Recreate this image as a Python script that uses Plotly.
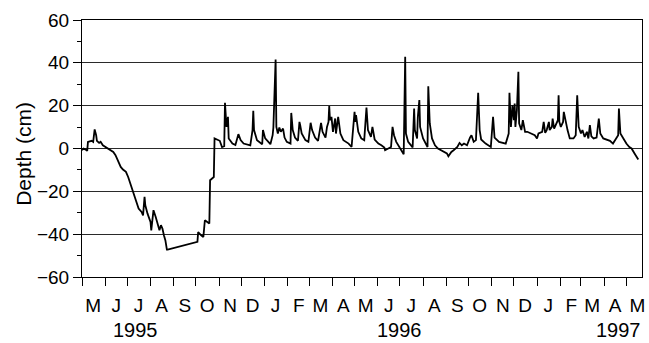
import pandas as pd
import plotly.graph_objects as go

# Days since 1 May 1995 and water depth (cm)
days = [0, 2, 5, 7, 8, 13, 15, 17, 19, 20, 23, 25, 28, 33, 37, 42, 45, 48, 52, 55,
        59, 62, 65, 68, 71, 74, 76, 80, 82, 84, 85, 88, 92, 93, 96, 99, 102, 104, 106, 108,
        110, 112, 114, 115, 155, 156, 160, 163, 165, 168, 171, 172, 175, 177, 178, 182, 185, 188, 191, 192,
        194, 196, 197, 202, 206, 210, 213, 217, 226, 229, 230, 231, 235, 242, 243, 246, 253, 256, 257, 260,
        261, 263, 265, 267, 270, 272, 275, 280, 281, 283, 286, 290, 292, 293, 295, 300, 304, 307, 309, 313,
        317, 321, 323, 327, 329, 331, 332, 333, 335, 337, 340, 341, 344, 347, 351, 358, 362, 366, 367, 368,
        371, 375, 379, 382, 384, 388, 390, 393, 398, 402, 406, 407, 411, 415, 417, 419, 422, 426, 430, 432,
        434, 435, 438, 442, 444, 446, 447, 450, 451, 453, 454, 458, 462, 464, 465, 467, 470, 474, 478, 482,
        487, 490, 492, 496, 499, 504, 507, 510, 513, 517, 521, 523, 526, 529, 532, 534, 536, 542, 549, 552,
        554, 560, 569, 571, 573, 574, 576, 578, 580, 581, 582, 584, 586, 587, 590, 592, 595, 598, 602, 608,
        611, 613, 618, 620, 622, 624, 627, 628, 631, 632, 634, 636, 639, 640, 641, 643, 646, 647, 650, 652,
        655, 660, 663, 665, 667, 670, 672, 675, 678, 680, 682, 684, 687, 691, 694, 696, 700, 704, 709, 713,
        717, 720, 721, 723, 727, 731, 735, 738, 742, 747]
depth_cm = [-0.8, 0, -0.5, -1.1, 3.1, 3.6, 3.1, 8.9, 6.2, 3.6, 2.6, 3.1, 1.5, 0.5, -0.5, -1.6, -3.1, -5.5, -8.6, -9.8,
            -10.9, -13.3, -16.4, -19.5, -22.3, -25.7, -28.0, -29.6, -31.2, -22.6, -26.5, -30.4, -34.3, -38.2, -28.8, -32, -35.1, -38.2, -35.8, -37.4,
            -40.5, -42.9, -47.2, -47.2, -43.6, -39, -40.5, -41.3, -33.5, -34.3, -35, -14.8, -14, -13.3, 4.7, 3.9, 3.6, 0.7, 1.1, 21.3,
            10.1, 14.8, 4.7, 2.3, 1.6, 6.7, 3.9, 2.3, 1.5, 8.6, 17.6, 8.6, 3.9, 2, 8.6, 4.7, 2, 6.2, 9.8, 41.6,
            10.1, 7, 9.8, 7.8, 9.3, 5.1, 3.1, 2.3, 16.6, 8.6, 5.1, 3.6, 12.4, 10.9, 7, 3.9, 3.1, 12, 8.6, 5.1,
            3.6, 12, 7.8, 5.1, 10.1, 12.4, 19.8, 13.2, 14.8, 7.8, 14, 7, 14.8, 7, 3.9, 2.3, 0.7, 17.1, 12.4, 15.6,
            7.8, 4.7, 3.9, 19.1, 8.6, 5.4, 10.1, 4.2, 2.3, 1.5, 0.5, -0.8, 0, 0.7, 10.1, 6.2, 3.1, 0.7, -1.6, -2.7,
            42.8, 7, 3.1, 1.1, 0.5, 18.7, 8.6, 4.7, 14.8, 22.6, 10.1, 4.7, 1.5, 0.7, 29.1, 11.7, 4.7, 1.5, 0, -0.8,
            -1.6, -2.3, -3.6, -1.6, -0.8, 0.7, 2.6, 1.5, 2.3, 1.5, 5.1, 6.2, 3.1, 3.9, 26, 8.6, 4.2, 2.3, 0.7, 14.8,
            5.1, 3.1, 2.3, 4.7, 7, 26, 10.1, 20.2, 13.2, 21, 10.1, 17.9, 35.8, 11.7, 8.6, 13.2, 7.8, 7.8, 7, 6.2,
            4.7, 7, 7.8, 12.4, 7.3, 8.6, 12.4, 8.6, 10.1, 14, 9.3, 10.9, 13.2, 24.9, 12.4, 10.1, 12.4, 17.1, 10.9, 8.6,
            4.7, 4.7, 6.2, 24.9, 10.1, 7, 8.6, 5.4, 7.8, 4.7, 10.9, 5.7, 4.7, 5.1, 14, 7, 4.7, 4.2, 3.6, 2.3,
            4.2, 6.2, 18.7, 7, 4.7, 2.3, 0.7, 0, -2.3, -5.1]

month_letters = ['M', 'J', 'J', 'A', 'S', 'O', 'N', 'D', 'J', 'F', 'M', 'A',
                 'M', 'J', 'J', 'A', 'S', 'O', 'N', 'D', 'J', 'F', 'M', 'A', 'M']
year_labels = ['1995', '1996', '1997']
year_dates = ['1995-07-12', '1996-07-01', '1997-04-21']

start = pd.Timestamp('1995-05-01')
dates = start + pd.to_timedelta(days, unit='D')
month_starts = pd.date_range('1995-05-01', periods=len(month_letters), freq='MS')
month_mids = month_starts + pd.Timedelta(days=15)

FONT = 'Liberation Sans, Arial, Helvetica, sans-serif'

fig = go.Figure()
fig.add_trace(go.Scatter(x=dates, y=depth_cm, mode='lines',
                         line=dict(color='black', width=1.8), showlegend=False,
                         hoverinfo='skip'))

fig.update_layout(
    width=649, height=343,
    margin=dict(l=82, r=4, t=20, b=66),
    paper_bgcolor='white', plot_bgcolor='white',
    font=dict(family=FONT, color='black', size=19),
    xaxis=dict(
        type='date',
        range=['1995-05-01', '1997-05-22'],
        tickvals=month_mids, ticktext=month_letters,
        ticks='outside', ticklen=8, tickcolor='rgba(0,0,0,0)',
        ticklabelstandoff=3,
        tickfont=dict(size=19),
        minor=dict(ticks='outside', ticklen=8, tickcolor='black', tickwidth=1,
                   dtick='M1', tick0='1995-05-01', showgrid=False),
        showgrid=False, zeroline=False,
        showline=True, linecolor='black', linewidth=1, mirror=True,
    ),
    yaxis=dict(
        range=[-60, 60], dtick=20, tick0=0,
        ticks='outside', ticklen=8, tickcolor='black',
        tickfont=dict(size=19),
        minor=dict(ticks='outside', ticklen=4, dtick=10, tickcolor='black', showgrid=False),
        showgrid=True, gridcolor='#2a2a2a', gridwidth=1,
        zeroline=False,
        showline=True, linecolor='black', linewidth=1, mirror=True,
    ),
)

fig.add_annotation(text='Depth (cm)', textangle=-90, xref='paper', yref='paper',
                   x=-0.105, y=0.48, xanchor='center', yanchor='middle',
                   showarrow=False, font=dict(size=21))

for lab, d in zip(year_labels, year_dates):
    fig.add_annotation(text=lab, x=d, y=-0.255, xref='x', yref='paper',
                       xanchor='center', yanchor='bottom', showarrow=False,
                       font=dict(size=20))

fig.write_html('out.html')
